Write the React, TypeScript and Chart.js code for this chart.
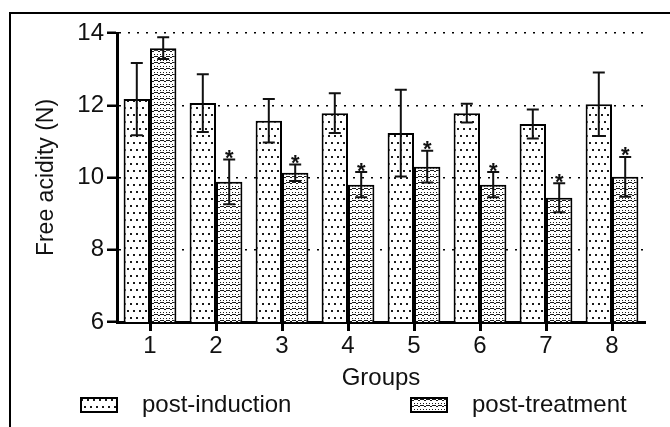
import React, { useEffect, useRef } from 'react';
import { Chart, registerables } from 'chart.js';

Chart.register(...registerables);

const groups = ['1', '2', '3', '4', '5', '6', '7', '8'];
const seriesLabels = ['post-induction', 'post-treatment'];
const postInduction = [12.17, 12.06, 11.57, 11.78, 11.23, 11.78, 11.48, 12.03];
const postInductionErr = [1.0, 0.8, 0.6, 0.55, 1.2, 0.26, 0.4, 0.88];
const postTreatment = [13.58, 9.88, 10.13, 9.8, 10.3, 9.8, 9.44, 10.02];
const postTreatmentErr = [0.3, 0.62, 0.23, 0.35, 0.44, 0.35, 0.4, 0.55];
const significant = [false, true, true, true, true, true, true, true];
const yTicks = [6, 8, 10, 12, 14];
const xTitle = 'Groups';
const yTitle = 'Free acidity (N)';

const FAMILY = '"Liberation Sans", Arial, sans-serif';
const INK = '#111';

function makeTile(w: number, h: number, draw: (g: CanvasRenderingContext2D) => void) {
  const c = document.createElement('canvas');
  c.width = w;
  c.height = h;
  const g = c.getContext('2d') as CanvasRenderingContext2D;
  g.fillStyle = '#fff';
  g.fillRect(0, 0, w, h);
  g.fillStyle = '#1a1a1a';
  draw(g);
  return c;
}

function dotTile() {
  return makeTile(6, 14, (g) => {
    g.fillRect(1, 2, 2, 2);
    g.fillRect(4, 9, 2, 2);
  });
}

function smileTile() {
  return makeTile(6, 6, (g) => {
    g.fillRect(1, 0, 1, 1);
    g.fillRect(4, 0, 1, 1);
    g.fillRect(0, 2, 2, 1);
    g.fillRect(2, 3, 2, 1);
    g.fillRect(4, 2, 2, 1);
  });
}

function legendBox(tile: HTMLCanvasElement) {
  const c = document.createElement('canvas');
  c.width = 38;
  c.height = 16;
  const g = c.getContext('2d') as CanvasRenderingContext2D;
  const pat = g.createPattern(tile, 'repeat');
  if (pat) g.fillStyle = pat;
  g.fillRect(0, 0, 38, 16);
  g.strokeStyle = '#000';
  g.lineWidth = 2;
  g.strokeRect(1, 1, 36, 14);
  return c;
}

const errorBarPlugin = {
  id: 'errorBars',
  afterDatasetsDraw(chart: any) {
    const { ctx } = chart;
    const y = chart.scales.y;
    const errs = [postInductionErr, postTreatmentErr];
    chart.data.datasets.forEach((ds: any, di: number) => {
      const meta = chart.getDatasetMeta(di);
      if (meta.hidden) return;
      meta.data.forEach((bar: any, i: number) => {
        const v = ds.data[i];
        const e = errs[di][i];
        const yt = y.getPixelForValue(v + e);
        const yb = y.getPixelForValue(v - e);
        const x = bar.x;
        ctx.save();
        ctx.strokeStyle = INK;
        ctx.lineWidth = 2;
        ctx.beginPath();
        ctx.moveTo(x, yb);
        ctx.lineTo(x, yt);
        ctx.moveTo(x - 6, yt);
        ctx.lineTo(x + 6, yt);
        ctx.moveTo(x - 6, yb);
        ctx.lineTo(x + 6, yb);
        ctx.stroke();
        if (di === 1 && significant[i]) {
          ctx.fillStyle = INK;
          ctx.font = `bold 22px ${FAMILY}`;
          ctx.textAlign = 'center';
          ctx.textBaseline = 'alphabetic';
          ctx.fillText('*', x, yt + 5.5);
        }
        ctx.restore();
      });
    });
  },
};

export default function App() {
  const ref = useRef<HTMLCanvasElement | null>(null);

  useEffect(() => {
    const canvas = ref.current;
    if (!canvas) return;
    const g = canvas.getContext('2d') as CanvasRenderingContext2D;
    const tiles = [dotTile(), smileTile()];
    const patterns = tiles.map((t) => g.createPattern(t, 'repeat') as CanvasPattern);
    const legendImgs = tiles.map((t) => legendBox(t));
    const blank = document.createElement('canvas');
    blank.width = 1;
    blank.height = 1;

    Chart.defaults.font.family = FAMILY;

    const chart = new Chart(canvas, {
      type: 'bar',
      data: {
        labels: groups,
        datasets: [
          {
            label: seriesLabels[0],
            data: postInduction,
            backgroundColor: patterns[0],
            borderColor: '#000',
            borderWidth: 2,
            categoryPercentage: 0.8,
            barPercentage: 1,
          },
          {
            label: seriesLabels[1],
            data: postTreatment,
            backgroundColor: patterns[1],
            borderColor: '#000',
            borderWidth: 2,
            categoryPercentage: 0.8,
            barPercentage: 1,
          },
        ],
      },
      options: {
        responsive: false,
        animation: false,
        layout: { padding: { left: 58.4, right: 25, top: 33, bottom: 0 } },
        plugins: {
          tooltip: { enabled: false },
          legend: {
            position: 'bottom',
            align: 'start',
            labels: {
              usePointStyle: true,
              pointStyleWidth: 62,
              padding: 9.6,
              color: INK,
              font: { size: 24, family: FAMILY },
              generateLabels: (ch: any) => {
                const items = (Chart.defaults as any).plugins.legend.labels.generateLabels(ch);
                items.forEach((it: any, i: number) => {
                  it.pointStyle = legendImgs[i];
                });
                const spacer = {
                  text: '  ',
                  pointStyle: blank,
                  fillStyle: 'rgba(0,0,0,0)',
                  strokeStyle: 'rgba(0,0,0,0)',
                  lineWidth: 0,
                  hidden: false,
                  datasetIndex: -1,
                };
                return [items[0], spacer, items[1]];
              },
            },
          },
        },
        scales: {
          x: {
            offset: true,
            grid: {
              offset: false,
              drawOnChartArea: false,
              drawTicks: true,
              tickLength: 9,
              tickWidth: 3,
              tickColor: '#000',
            },
            border: { display: true, color: '#000', width: 3 },
            ticks: { color: INK, font: { size: 24, family: FAMILY }, padding: 1, maxRotation: 0 },
            title: {
              display: true,
              text: xTitle,
              color: INK,
              font: { size: 24, family: FAMILY },
              padding: { top: 0, bottom: -9 },
            },
            afterFit: (s: any) => {
              s.height = 61.4;
            },
          },
          y: {
            min: 6,
            max: 14,
            afterBuildTicks: (s: any) => {
              s.ticks = yTicks.map((v) => ({ value: v }));
            },
            grid: {
              color: (c: any) => (c.tick && c.tick.value === 6 ? 'rgba(0,0,0,0)' : '#000'),
              lineWidth: 1.5,
              drawTicks: true,
              tickLength: 10,
              tickWidth: 2.5,
              tickColor: '#000',
            },
            border: { display: true, color: '#000', width: 3, dash: [2, 7] },
            ticks: { color: INK, font: { size: 24, family: FAMILY }, padding: 3 },
            title: {
              display: true,
              text: yTitle,
              color: INK,
              font: { size: 23, family: FAMILY },
              padding: { top: -25.2, bottom: 0 },
            },
            afterFit: (s: any) => {
              s.width = 58.6;
            },
          },
        },
      } as any,
      plugins: [errorBarPlugin],
    });

    return () => chart.destroy();
  }, []);

  return (
    <div
      style={{
        position: 'absolute',
        left: 0,
        top: 0,
        width: 670,
        height: 427,
        overflow: 'hidden',
        background: '#fff',
      }}
    >
      <div
        style={{
          position: 'absolute',
          left: 9,
          top: 12,
          width: 700,
          height: 500,
          boxSizing: 'border-box',
          borderTop: '2px solid #000',
          borderLeft: '2px solid #000',
        }}
      />
      <canvas ref={ref} width={670} height={427} style={{ position: 'absolute', left: 0, top: 0 }} />
    </div>
  );
}
